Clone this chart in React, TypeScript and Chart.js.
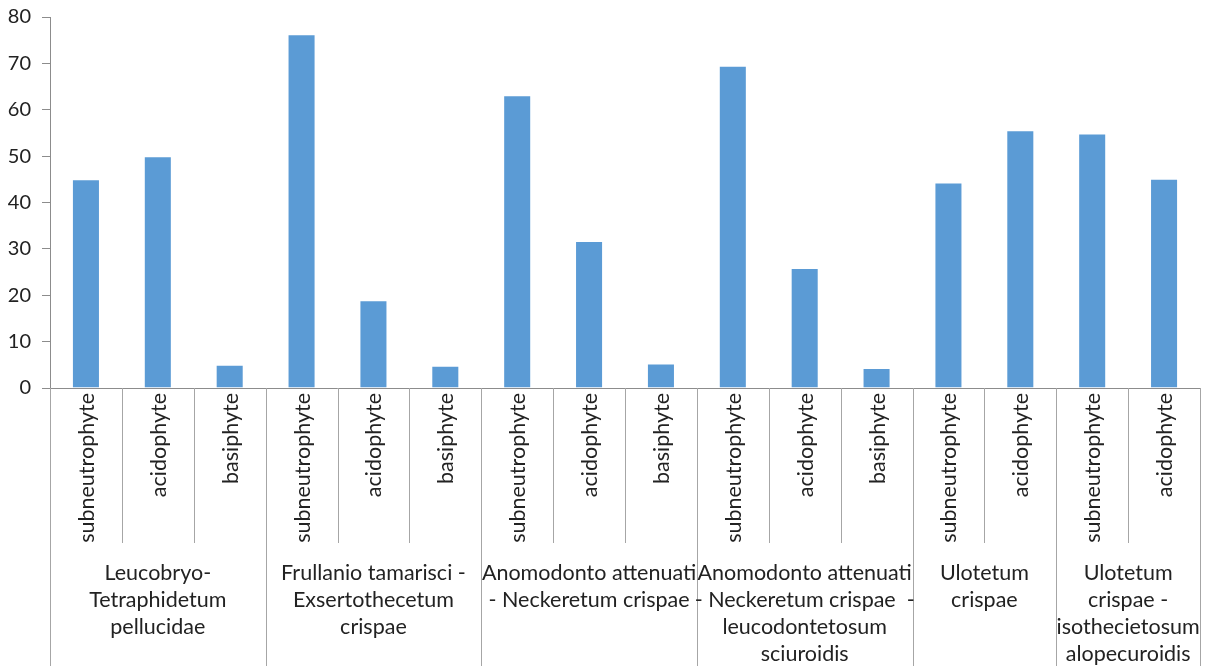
import { useEffect, useRef } from "react";
import { Chart, registerables } from "chart.js";

Chart.register(...registerables);

// Ecological groups (x-axis categories), one bar each
const categories = [
  "subneutrophyte", "acidophyte", "basiphyte",
  "subneutrophyte", "acidophyte", "basiphyte",
  "subneutrophyte", "acidophyte", "basiphyte",
  "subneutrophyte", "acidophyte", "basiphyte",
  "subneutrophyte", "acidophyte",
  "subneutrophyte", "acidophyte",
];

// Share (%) of each ecological group within the association
const values = [
  45.0, 50.0, 5.0,
  76.3, 18.9, 4.8,
  63.1, 31.7, 5.3,
  69.5, 25.9, 4.3,
  44.3, 55.6,
  54.9, 45.1,
];

// Plant associations (outer axis level), wrapped onto lines
const groupLines = [
  ["Leucobryo-", "Tetraphidetum", "pellucidae"],
  ["Frullanio tamarisci -", "Exsertothecetum", "crispae"],
  ["Anomodonto attenuati", "- Neckeretum crispae"],
  ["Anomodonto attenuati", "- Neckeretum crispae  -", "leucodontetosum", "sciuroidis"],
  ["Ulotetum", "crispae"],
  ["Ulotetum", "crispae -", "isothecietosum", "alopecuroidis"],
];
const groupSizes = [3, 3, 3, 3, 2, 2];

const yMin = 0;
const yMax = 80;
const yStep = 10;

const FONT = "Lato, 'Open Sans', sans-serif";
const TEXT_COLOR = "#222222";
const AXIS_COLOR = "#8c8c8c";
const SEP_COLOR = "#a6a6a6";

// Draws the two-level category axis: rotated inner labels, separators, association names
const multiLevelAxis = {
  id: "multiLevelAxis",
  afterDraw(chart: any) {
    const ctx = chart.ctx as CanvasRenderingContext2D;
    const xs = chart.scales.x;
    const base = chart.chartArea.bottom;
    const n = categories.length;
    const w = (xs.right - xs.left) / n;
    const boundary = (i: number) =>
      i < n ? xs.getPixelForValue(i) - w / 2 : xs.getPixelForValue(n - 1) + w / 2;

    const groupEdges = new Set<number>();
    let acc = 0;
    groupEdges.add(0);
    groupSizes.forEach((s) => {
      acc += s;
      groupEdges.add(acc);
    });

    ctx.save();
    ctx.lineWidth = 1;
    ctx.strokeStyle = SEP_COLOR;
    for (let i = 0; i <= n; i++) {
      const x = Math.round(boundary(i)) + 0.5;
      const yEnd = groupEdges.has(i) ? chart.height : base + 155;
      ctx.beginPath();
      ctx.moveTo(x, base);
      ctx.lineTo(x, yEnd);
      ctx.stroke();
    }

    // inner labels, reading bottom to top
    ctx.fillStyle = TEXT_COLOR;
    ctx.font = `21.5px ${FONT}`;
    for (let i = 0; i < n; i++) {
      const cx = xs.getPixelForValue(i);
      ctx.save();
      ctx.translate(cx + 1, base + 5);
      ctx.rotate(-Math.PI / 2);
      ctx.textAlign = "right";
      ctx.textBaseline = "middle";
      ctx.fillText(categories[i], 0, 0);
      ctx.restore();
    }

    // outer association labels
    ctx.textAlign = "center";
    ctx.textBaseline = "middle";
    let start = 0;
    groupSizes.forEach((s, g) => {
      const cx = (boundary(start) + boundary(start + s)) / 2;
      groupLines[g].forEach((line, k) => {
        ctx.fillText(line, cx, base + 185 + k * 27);
      });
      start += s;
    });
    ctx.restore();
  },
};

export default function App() {
  const canvasRef = useRef<HTMLCanvasElement | null>(null);

  useEffect(() => {
    document.body.style.margin = "0";
    const canvas = canvasRef.current;
    if (!canvas) return;
    const chart = new Chart(canvas, {
      type: "bar",
      data: {
        labels: categories,
        datasets: [
          {
            data: values,
            backgroundColor: "#5b9bd5",
            borderColor: "rgba(255,255,255,0.55)",
            borderWidth: 1,
            barPercentage: 0.39,
            categoryPercentage: 1,
          },
        ],
      },
      options: {
        responsive: false,
        animation: false,
        layout: { padding: { top: 17, right: 10, left: 0, bottom: 0 } },
        plugins: {
          legend: { display: false },
          tooltip: { enabled: false },
        },
        scales: {
          x: {
            offset: true,
            ticks: { display: false },
            grid: { display: false },
            border: { display: true, color: AXIS_COLOR, width: 1 },
            afterFit(scale: any) {
              scale.height = 278;
              scale.paddingLeft = 0;
              scale.paddingRight = 0;
            },
          },
          y: {
            min: yMin,
            max: yMax,
            ticks: {
              stepSize: yStep,
              padding: 11,
              color: TEXT_COLOR,
              font: { family: FONT, size: 20 },
            },
            grid: {
              drawOnChartArea: false,
              drawTicks: true,
              tickLength: 8,
              color: AXIS_COLOR,
            },
            border: { display: true, color: AXIS_COLOR, width: 1 },
            afterFit(scale: any) {
              scale.width = 50;
              scale.paddingTop = 0;
              scale.paddingBottom = 0;
            },
          },
        },
      },
      plugins: [multiLevelAxis],
    });
    return () => chart.destroy();
  }, []);

  return (
    <div style={{ width: 1210, height: 666 }}>
      <canvas ref={canvasRef} width={1210} height={666} />
    </div>
  );
}
